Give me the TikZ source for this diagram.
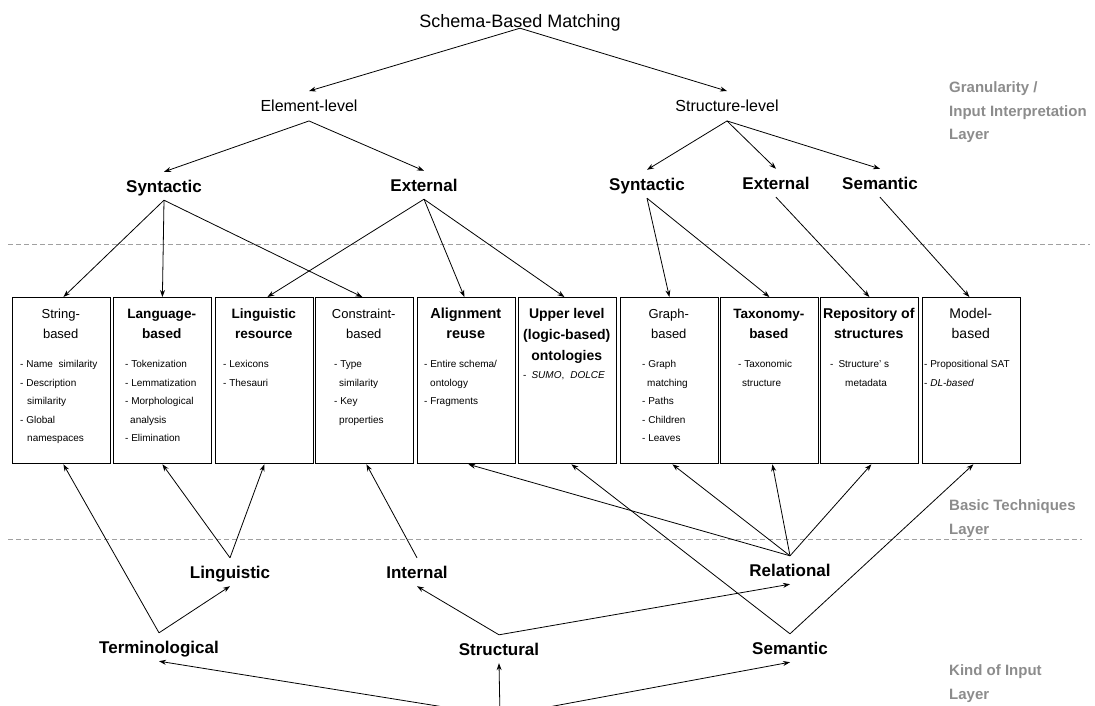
\documentclass[tikz,border=0pt]{standalone}
\usepackage{fontspec}
\setmainfont{Liberation Sans}
\usetikzlibrary{arrows.meta}
\definecolor{layergray}{HTML}{8C8C8C}
\definecolor{sepgray}{HTML}{A0A0A0}
\begin{document}
\begin{tikzpicture}[x=1pt,y=-1pt,
  arr/.style={-{Stealth[length=7pt,width=5pt]}, line width=0.8pt},
  lvl/.style={font=\bfseries\fontsize{17}{20}\selectfont, text height=12pt, text depth=0pt, inner xsep=1pt, inner ysep=8pt},
  midlvl/.style={font=\fontsize{16}{20}\selectfont, text height=11.5pt, text depth=0pt, inner xsep=1pt, inner ysep=9pt},
  rootst/.style={font=\fontsize{18}{22}\selectfont, text height=13pt, text depth=0pt, inner xsep=1pt, inner ysep=0.5pt},
  tbox/.style={draw, line width=1.3pt, minimum width=97.5pt, minimum height=166pt, inner sep=0pt, anchor=north west},
  ttl/.style={align=center, inner sep=0pt, anchor=north},
  itm/.style={align=left, inner sep=0pt, anchor=north west, font=\fontsize{10}{18.5}\selectfont},
  layer/.style={align=left, inner sep=0pt, anchor=north west, text=layergray, font=\bfseries\fontsize{15}{23.5}\selectfont},
  sep/.style={draw=sepgray, line width=0.8pt, dash pattern=on 5pt off 3pt}
]
\useasboundingbox (0,0) rectangle (1095,705);
\clip (0,0) rectangle (1095,705);

% separators
\draw[sep] (8,244) -- (1090,244);
\draw[sep] (8,539) -- (1082,539);

% layer labels
\node[layer] (lay1) at (949,76) {\strut Granularity /\\Input Interpretation\\Layer};
\node[layer] (lay2) at (949,494) {\strut Basic Techniques\\Layer};
\node[layer] (lay3) at (949,659) {\strut Kind of Input\\Layer};

% top tree
\node[rootst] (root) at (520,21) {Schema-Based Matching};
\node[midlvl] (elem) at (309,106) {Element-level};
\node[midlvl] (strl) at (727,106) {Structure-level};
\node[lvl] (syntL) at (164,186) {Syntactic};
\node[lvl] (extL) at (424,185) {External};
\node[lvl] (syntR) at (647,184) {Syntactic};
\node[lvl] (extR) at (776,183) {External};
\node[lvl] (semR) at (880,183) {Semantic};

% boxes
\node[tbox] (b1) at (12,297) {};
\node[tbox] (b2) at (113,297) {};
\node[tbox] (b3) at (215,297) {};
\node[tbox] (b4) at (315,297) {};
\node[tbox] (b5) at (417,297) {};
\node[tbox] (b6) at (518,297) {};
\node[tbox] (b7) at (620,297) {};
\node[tbox] (b8) at (720,297) {};
\node[tbox] (b9) at (820,297) {};
\node[tbox] (b10) at (922,297) {};

% titles
\node[ttl, font=\fontsize{13}{20}\selectfont] (t1) at (60.75,304) {\strut String-\\based};
\node[ttl, font=\bfseries\fontsize{13.6}{20}\selectfont] (t2) at (161.75,304) {\strut Language-\\based};
\node[ttl, font=\bfseries\fontsize{13.6}{20}\selectfont] (t3) at (263.75,304) {\strut Linguistic\\resource};
\node[ttl, font=\fontsize{13}{20}\selectfont] (t4) at (363.75,304) {\strut Constraint-\\based};
\node[ttl, font=\bfseries\fontsize{14.5}{20}\selectfont] (t5) at (465.75,304) {\strut Alignment\\reuse};
\node[ttl, font=\bfseries\fontsize{14}{21}\selectfont] (t6) at (566.75,303.3) {\strut Upper level\\(logic-based)\\ontologies};
\node[ttl, font=\fontsize{13}{20}\selectfont] (t7) at (668.75,304) {\strut Graph-\\based};
\node[ttl, font=\bfseries\fontsize{13.5}{20}\selectfont] (t8) at (768.75,304) {\strut Taxonomy-\\based};
\node[ttl, font=\bfseries\fontsize{14.2}{20}\selectfont] (t9) at (868.75,304) {\strut Repository of\\structures};
\node[ttl, font=\fontsize{14}{20}\selectfont] (t10) at (970.75,304) {\strut Model-\\based};

% items
\node[itm] (i1) at (20,354.6) {\strut - Name\ \ similarity\\- Description\\\hspace*{7pt}similarity\\- Global\\\hspace*{7pt}namespaces};
\node[itm] (i2) at (125,354.6) {\strut - Tokenization\\- Lemmatization\\- Morphological\\\hspace*{5pt}analysis\\- Elimination};
\node[itm] (i3) at (223,354.6) {\strut - Lexicons\\- Thesauri};
\node[itm] (i4) at (334,354.6) {\strut - Type\\\hspace*{5pt}similarity\\- Key\\\hspace*{5pt}properties};
\node[itm] (i5) at (424,354.6) {\strut - Entire schema/\\\hspace*{6pt}ontology\\- Fragments};
\node[itm] (i6) at (523,365.7) {\strut -\hspace{5pt}\textit{SUMO},\hspace{6pt}\textit{DOLCE}};
\node[itm] (i7) at (642,354.6) {\strut - Graph\\\hspace*{5pt}matching\\- Paths\\- Children\\- Leaves};
\node[itm] (i8) at (738,354.6) {\strut - Taxonomic\\\hspace*{4pt}structure};
\node[itm] (i9) at (830,354.6) {\strut -\hspace{5pt}Structure' s\\\hspace*{15pt}metadata};
\node[itm] (i10) at (924,354.6) {\strut - Propositional SAT\\- \textit{DL-based}};

% bottom tree
\node[lvl] (ling) at (230,572) {Linguistic};
\node[lvl] (intl) at (417,572) {Internal};
\node[lvl] (rel) at (790,570) {Relational};
\node[lvl] (term) at (159,647) {Terminological};
\node[lvl] (stru) at (499,649) {Structural};
\node[lvl] (semB) at (790,648) {Semantic};
\coordinate (kroot) at (500,716);

% top arrows
\draw[arr] (root.south) -- (elem.north);
\draw[arr] (root.south) -- (strl.north);
\draw[arr] (elem.south) -- (syntL.north);
\draw[arr] (elem.south) -- (extL.north);
\draw[arr] (strl.south) -- (syntR.north);
\draw[arr] (strl.south) -- (extR.north);
\draw[arr] (strl.south) -- (semR.north);
\draw[arr] (syntL.south) -- ([xshift=2pt]b1.north);
\draw[arr] (syntL.south) -- (b2.north);
\draw[arr] (syntL.south) -- ([xshift=-2pt]b4.north);
\draw[arr] (extL.south) -- ([xshift=3pt]b3.north);
\draw[arr] (extL.south) -- ([xshift=-2pt]b5.north);
\draw[arr] (extL.south) -- ([xshift=-3pt]b6.north);
\draw[arr] (syntR.south) -- (b7.north);
\draw[arr] (syntR.south) -- (b8.north);
\draw[arr] (extR.south) -- (b9.north);
\draw[arr] (semR.south) -- ([xshift=-2pt]b10.north);

% bottom arrows
\draw[arr] (term.north) -- ([xshift=2pt]b1.south);
\draw[arr] (term.north) -- (ling.south);
\draw[arr] (ling.north) -- (b2.south);
\draw[arr] (ling.north) -- (b3.south);
\draw[arr] (intl.north) -- ([xshift=2pt]b4.south);
\draw[arr] (rel.north) -- ([xshift=2pt]b5.south);
\draw[arr] (rel.north) -- ([xshift=3pt]b7.south);
\draw[arr] (rel.north) -- ([xshift=3pt]b8.south);
\draw[arr] (rel.north) -- ([xshift=2pt]b9.south);
\draw[arr] (semB.north) -- ([xshift=4pt]b6.south);
\draw[arr] (semB.north) -- ([xshift=2pt]b10.south);
\draw[arr] (stru.north) -- (intl.south);
\draw[arr] (stru.north) -- (rel.south);
\draw[arr] (kroot) -- (term.south);
\draw[arr] (kroot) -- (stru.south);
\draw[arr] (kroot) -- (semB.south);
\end{tikzpicture}
\end{document}
